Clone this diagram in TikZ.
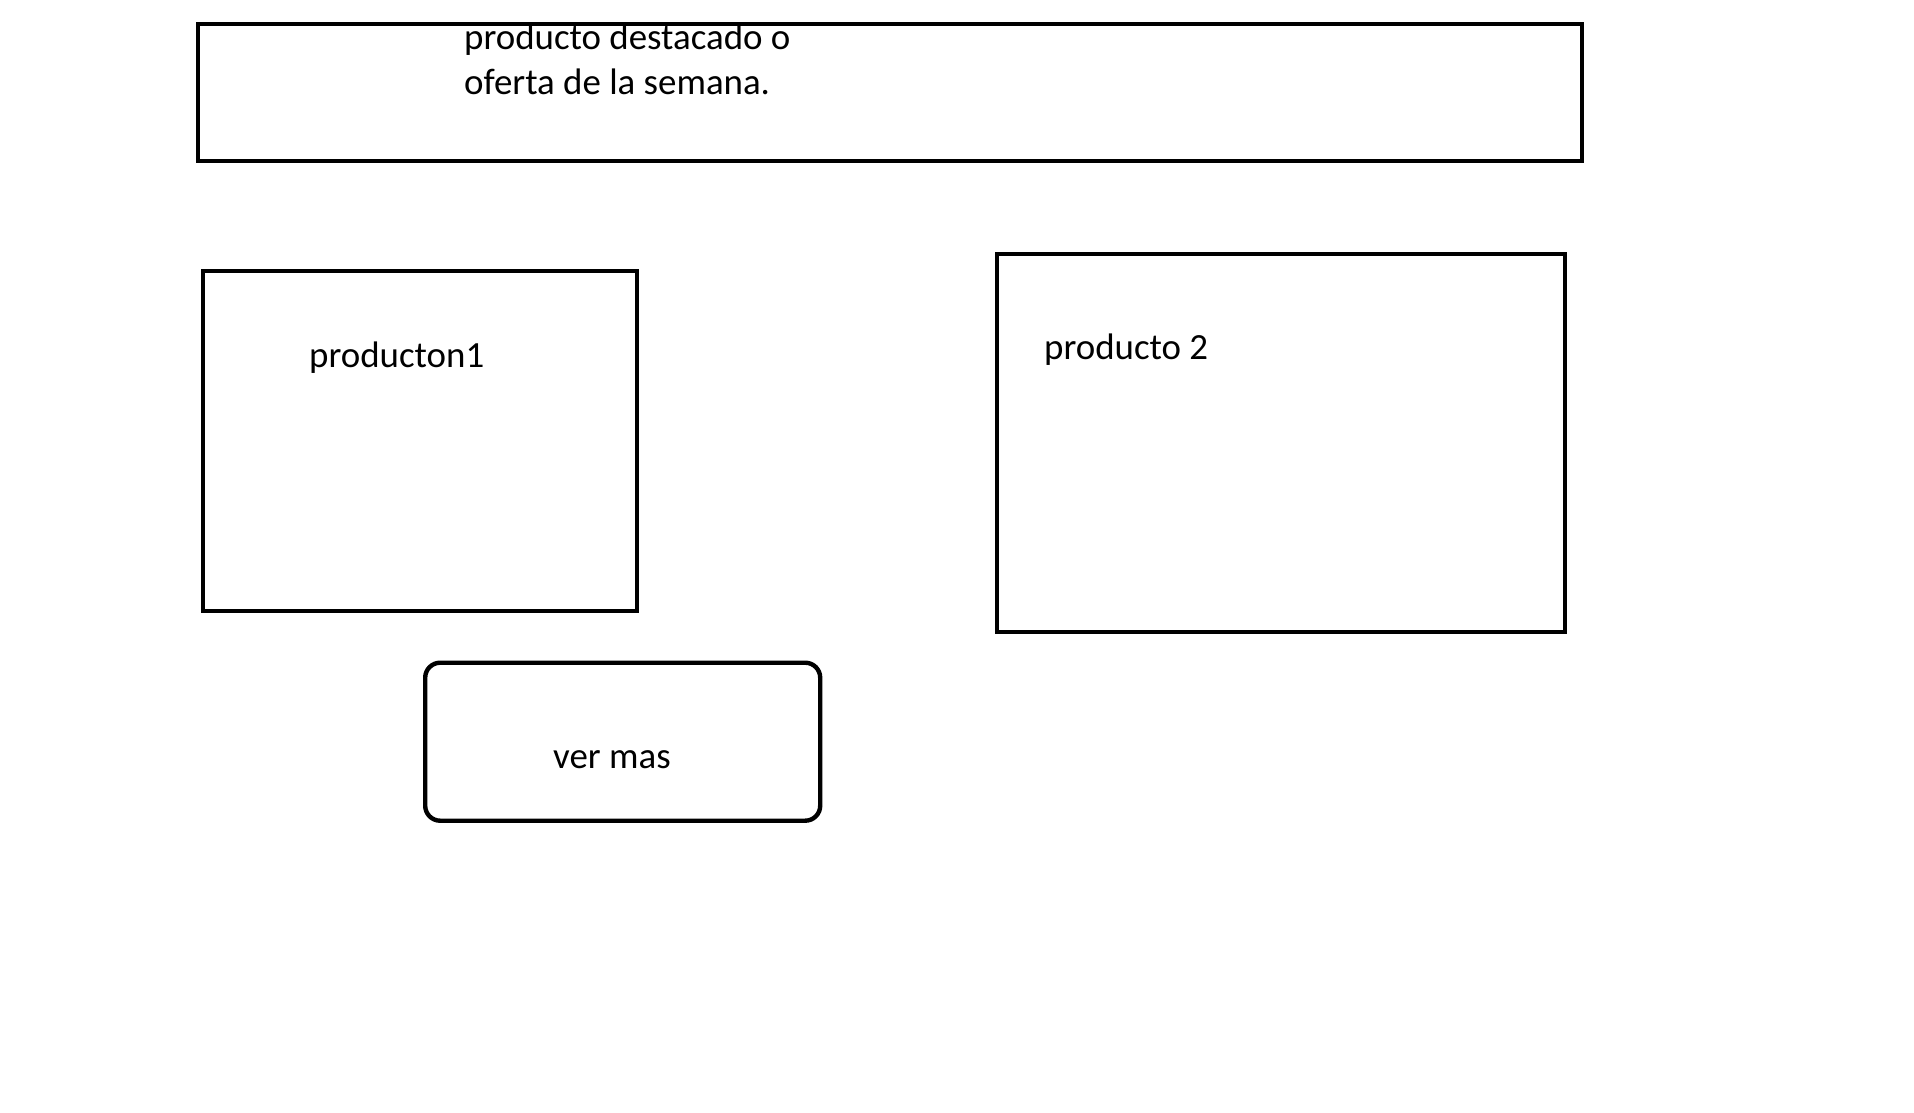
\documentclass[tikz,border=0pt]{standalone}
\usepackage{fontspec}
\setmainfont{Carlito}
\begin{document}
\begin{tikzpicture}[x=1pt,y=-1pt,
  box/.style={draw=black, line width=4.4pt, inner sep=0pt, anchor=north west, fill=none},
  label/.style={inner sep=0pt, anchor=base west, font=\fontsize{36.9}{44.8}\selectfont, text=black}]
\useasboundingbox[fill=white] (0,0) rectangle (1914,1112);
% texts
\node[label] (t1) at (464,49) {producto destacado o};
\node[label] (t2) at (464,94) {oferta de la semana.};
\node[label] (p1t) at (309,367) {producton1};
\node[label] (p2t) at (1044,359) {producto 2};
\node[label] (vmt) at (553,768) {ver mas};
% boxes
\node[box, minimum width=1384pt, minimum height=137pt] (top) at (196,21.5) {};
\node[box, minimum width=434pt, minimum height=340pt] (p1) at (201,268.5) {};
\node[box, minimum width=568pt, minimum height=378pt] (p2) at (995,251.5) {};
\node[box, rounded corners=15pt, minimum width=395pt, minimum height=158pt] (vm) at (423,660.5) {};
\end{tikzpicture}
\end{document}
